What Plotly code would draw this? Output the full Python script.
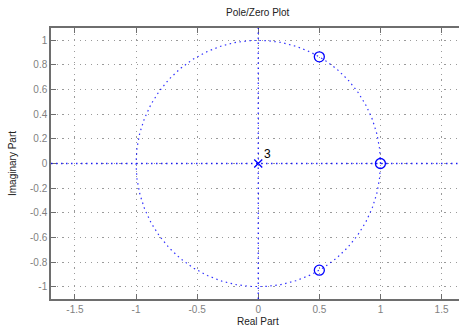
import numpy as np
import plotly.graph_objects as go

# Data
zeros_re = [1.0, 0.5, 0.5]
zeros_im = [0.0, 0.866, -0.866]
poles_re = [0.0]
poles_im = [0.0]
pole_mult = ["3"]
xticks = [-1.5, -1, -0.5, 0, 0.5, 1, 1.5]
yticks = [-1, -0.8, -0.6, -0.4, -0.2, 0, 0.2, 0.4, 0.6, 0.8, 1]

theta = np.linspace(0, 2 * np.pi, 400)
BLUE = "#0000ff"
TICKC = "#7f7f7f"
AXC = "#6e6e6e"
GRIDC = "#9a9a9a"
FONT = "Liberation Sans, Arial, sans-serif"
BDASH = "1.5px,3.5px"
GDASH = "1.2px,4.5px"

fig = go.Figure()
# unit circle
fig.add_trace(go.Scatter(x=np.cos(theta), y=np.sin(theta), mode="lines",
                         line=dict(color=BLUE, width=1.2, dash=BDASH),
                         opacity=0.8, hoverinfo="skip", showlegend=False))
# zeros
fig.add_trace(go.Scatter(x=zeros_re, y=zeros_im, mode="markers",
                         marker=dict(symbol="circle-open", size=10, color=BLUE,
                                     line=dict(width=1.3, color=BLUE)),
                         showlegend=False))
# poles
fig.add_trace(go.Scatter(x=poles_re, y=poles_im, mode="markers",
                         marker=dict(symbol="x-thin-open", size=8, color=BLUE,
                                     line=dict(width=1.3, color=BLUE)),
                         showlegend=False))

# mask the grid lines through the origin, then draw blue dotted axes lines
for kw in (dict(xref="paper", yref="y", x0=0, x1=1, y0=0, y1=0),
           dict(xref="x", yref="paper", x0=0, x1=0, y0=0, y1=1)):
    fig.add_shape(type="line", line=dict(color="white", width=3), layer="between", **kw)
    fig.add_shape(type="line", line=dict(color=BLUE, width=1.3, dash=BDASH),
                  opacity=0.85, layer="above", **kw)

# multiplicity label
for xr, yr, t in zip(poles_re, poles_im, pole_mult):
    fig.add_annotation(x=xr, y=yr, text=t, showarrow=False, xanchor="left",
                       yanchor="bottom", xshift=4, yshift=1,
                       font=dict(family=FONT, size=12, color="#000000"))

# titles as annotations (centered on full axes)
fig.add_annotation(x=0, y=1, xref="x", yref="paper", yshift=8, text="Pole/Zero Plot",
                   showarrow=False, yanchor="bottom",
                   font=dict(family=FONT, size=10, color="#222222"))
fig.add_annotation(x=0, y=0, xref="x", yref="paper", yshift=-15, text="Real Part",
                   showarrow=False, yanchor="top",
                   font=dict(family=FONT, size=10, color="#222222"))
fig.add_annotation(x=0, y=0.5, xref="paper", yref="paper", xshift=-31, text="Imaginary Part",
                   showarrow=False, textangle=-90, xanchor="right",
                   font=dict(family=FONT, size=10, color="#222222"))

fig.update_layout(
    width=459, height=327,
    margin=dict(l=51, r=0, t=28, b=28),
    paper_bgcolor="white", plot_bgcolor="white",
    font=dict(family=FONT, size=10, color=TICKC),
    xaxis=dict(range=[-1.696, 1.643], tickvals=xticks,
               ticktext=[f"{v:g}" for v in xticks],
               showgrid=True, gridcolor=GRIDC, griddash=GDASH, gridwidth=1,
               zeroline=False, showline=True, linecolor=AXC, linewidth=1.5,
               mirror="ticks", ticks="inside", ticklen=5, tickcolor=AXC,
               tickfont=dict(size=10, color=TICKC), fixedrange=True),
    yaxis=dict(range=[-1.1, 1.1], tickvals=yticks,
               ticktext=[f"{v:g}" for v in yticks],
               showgrid=True, gridcolor=GRIDC, griddash=GDASH, gridwidth=1,
               zeroline=False, showline=True, linecolor=AXC, linewidth=1.5,
               mirror=False, ticks="inside", ticklen=5, tickcolor=AXC,
               tickfont=dict(size=10, color=TICKC), fixedrange=True),
)

fig.write_html("out.html")
